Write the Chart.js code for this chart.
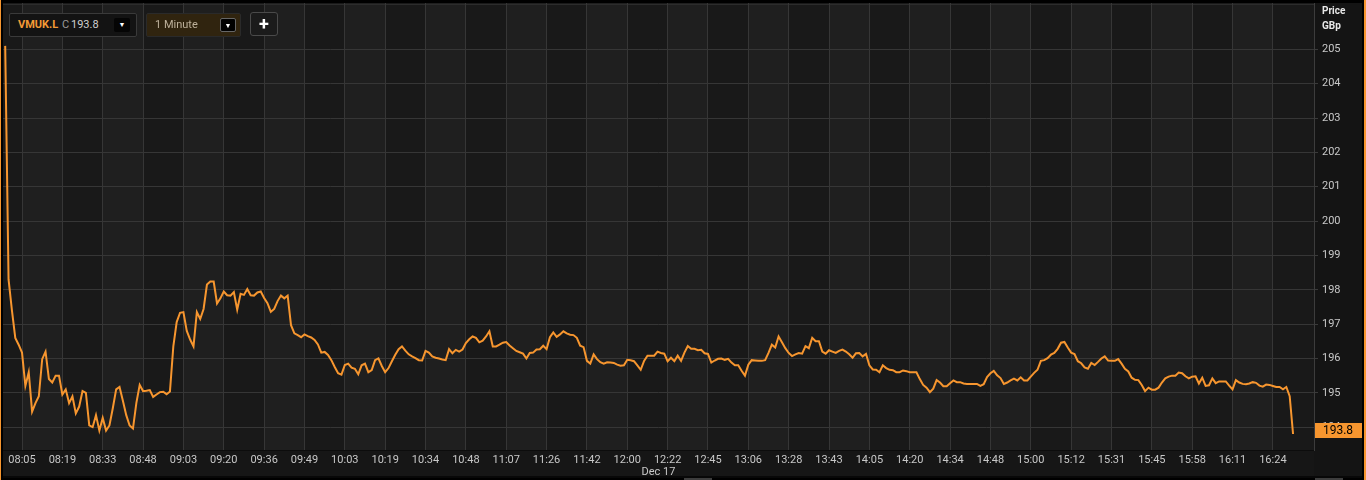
<!DOCTYPE html>
<html><head><meta charset="utf-8">
<script src="https://cdn.jsdelivr.net/npm/chart.js@4"></script>
<style>
html,body{margin:0;padding:0;background:#000;width:1366px;height:480px;overflow:hidden;font-family:Roboto,"Liberation Sans",sans-serif;}
#wrap{position:absolute;left:3px;top:3px;width:1359px;height:475px;}
.edge{position:absolute;background:#f7962f;}
.box{position:absolute;box-sizing:border-box;border:1px solid #3a3a3a;border-radius:2px;}
.box span{position:absolute;line-height:22px;top:0;font-size:11px;white-space:nowrap;}
.dd{position:absolute;box-sizing:border-box;width:16px;height:14px;top:4px;border-radius:2px;color:#fff;font-size:7px;line-height:14px;text-align:center;}
.tab{position:absolute;top:478px;width:28px;height:2px;background:#3d3d3d;}
</style></head>
<body>
<div class="edge" style="left:0;top:0;width:1px;height:480px"></div>
<div class="edge" style="left:1364px;top:0;width:2px;height:480px"></div>
<div id="wrap"><canvas id="c" width="1359" height="475"></canvas></div>
<div class="box" style="left:9px;top:13px;width:128px;height:24px;background:#131313;">
  <span style="left:8px;color:#f39a36;font-weight:bold;">VMUK.L</span>
  <span style="left:52px;color:#9a9a9a;">C</span>
  <span style="left:61px;color:#d0d0d0;">193.8</span>
  <div class="dd" style="left:104px;background:#050505;">&#9660;</div>
</div>
<div class="box" style="left:146px;top:13px;width:95px;height:24px;background:#30240f;border-color:#2a2a2a;">
  <span style="left:8px;color:#bdb09a;">1 Minute</span>
  <div class="dd" style="left:73px;background:#000;border:1px solid #666;">&#9660;</div>
</div>
<div class="box" style="left:250px;top:12px;width:28px;height:24px;background:#1b1b1b;border-color:#4a4a4a;border-radius:3px;">
  <span style="left:0;width:26px;text-align:center;color:#fff;font-weight:bold;font-size:18px;line-height:21px;">+</span>
</div>
<div class="tab" style="left:684px"></div>
<div class="tab" style="left:1315px"></div>
<script>
const symbol = 'VMUK.L';
const tickLabels = ['08:05','08:19','08:33','08:48','09:03','09:20','09:36','09:49','10:03','10:19','10:34','10:48','11:07','11:26','11:42','12:00','12:22','12:45','13:06','13:28','13:43','14:05','14:20','14:34','14:48','15:00','15:12','15:31','15:45','15:58','16:11','16:24'];
const tickBars = [5,17,29,41,53,65,77,89,101,113,125,137,149,161,173,185,197,209,221,233,245,257,269,281,293,305,317,329,341,353,365,377];
const yTicks = [194,195,196,197,198,199,200,201,202,203,204,205];
const prices = [
205.1,198.3,197.4,196.6,196.4,196.17,195.2,195.6,194.45,194.7,
194.9,195.98,196.2,195.4,195.3,195.5,195.5,194.95,195.1,194.7,
194.9,194.4,194.6,195.05,195.0,194.05,194.0,194.35,193.9,194.27,
193.9,194.05,194.55,195.1,195.17,194.77,194.35,194.05,193.96,194.7,
195.23,195.05,195.06,195.08,194.88,194.95,195.02,195.03,194.96,195.04,
196.35,197.06,197.33,197.35,196.8,196.55,196.35,197.35,197.15,197.44,
198.15,198.24,198.24,197.6,197.75,197.95,197.84,197.83,197.93,197.42,
197.88,197.85,198.02,197.84,197.83,197.92,197.95,197.76,197.61,197.36,
197.44,197.67,197.83,197.75,197.83,196.97,196.73,196.68,196.62,196.7,
196.65,196.61,196.54,196.41,196.17,196.19,196.1,195.95,195.75,195.57,
195.53,195.81,195.85,195.73,195.7,195.54,195.8,195.85,195.6,195.66,
195.95,196.0,195.78,195.6,195.72,195.92,196.11,196.27,196.35,196.23,
196.12,196.06,196.01,195.95,195.94,196.22,196.17,196.06,196.02,196.0,
195.97,195.95,196.27,196.15,196.25,196.2,196.26,196.45,196.56,196.64,
196.6,196.47,196.52,196.64,196.79,196.35,196.35,196.4,196.46,196.48,
196.38,196.3,196.22,196.18,196.14,196.0,196.16,196.17,196.26,196.27,
196.37,196.27,196.62,196.76,196.63,196.7,196.79,196.73,196.69,196.68,
196.6,196.37,196.33,195.93,195.85,196.12,195.98,195.89,195.85,195.89,
195.88,195.87,195.82,195.79,195.8,195.96,195.95,195.92,195.8,195.67,
195.93,196.08,196.08,196.08,196.2,196.16,196.14,195.92,196.02,195.92,
196.08,195.93,196.17,196.36,196.28,196.28,196.24,196.25,196.15,196.13,
195.88,195.94,195.99,196.0,195.96,195.99,195.88,195.8,195.8,195.64,
195.5,195.82,195.95,195.94,195.93,195.93,195.95,196.16,196.4,196.32,
196.64,196.47,196.3,196.16,196.07,196.12,196.16,196.14,196.36,196.3,
196.6,196.5,196.5,196.2,196.14,196.24,196.2,196.16,196.22,196.26,
196.2,196.12,196.02,196.15,196.16,196.06,196.13,195.8,195.68,195.67,
195.6,195.8,195.72,195.67,195.66,195.6,195.6,195.65,195.63,195.6,
195.6,195.6,195.4,195.23,195.15,195.02,195.12,195.37,195.3,195.19,
195.19,195.28,195.36,195.31,195.31,195.27,195.26,195.26,195.26,195.26,
195.2,195.25,195.46,195.57,195.64,195.51,195.43,195.26,195.3,195.36,
195.41,195.36,195.45,195.36,195.36,195.47,195.58,195.67,195.93,195.95,
196.01,196.11,196.16,196.28,196.46,196.48,196.32,196.17,196.13,195.92,
195.86,195.74,195.7,195.87,195.81,195.9,196.0,196.06,195.94,195.93,
195.93,195.98,195.85,195.7,195.62,195.44,195.38,195.37,195.23,195.05,
195.15,195.09,195.09,195.15,195.3,195.42,195.47,195.5,195.5,195.59,
195.57,195.48,195.42,195.47,195.48,195.27,195.44,195.2,195.22,195.42,
195.28,195.33,195.33,195.33,195.21,195.1,195.37,195.3,195.26,195.25,
195.27,195.31,195.29,195.21,195.18,195.24,195.23,195.2,195.17,195.17,
195.1,195.17,194.9,193.8
];
const dateLabel = 'Dec 17';
const axisTitle = ['Price','GBp'];

const LINE = '#f7962f';
const FONT = 'Roboto, "Liberation Sans", sans-serif';

const deco = {
  id:'deco',
  beforeDraw(chart){
    const {ctx, chartArea:a, scales:{x}} = chart;
    ctx.save();
    ctx.fillStyle = '#141414';
    ctx.fillRect(0,0,chart.width,chart.height);
    const edges = [a.left, ...x.ticks.map(t=>x.getPixelForValue(t.value)), a.right];
    for(let k=0;k<edges.length-1;k++){
      ctx.fillStyle = (k%2===1) ? '#1f1f1f' : '#191919';
      ctx.fillRect(edges[k], a.top, edges[k+1]-edges[k], a.bottom-a.top);
    }
    ctx.fillStyle = '#161616';
    ctx.fillRect(0, a.bottom, a.right, chart.height-a.bottom);
    ctx.fillStyle = '#080808';
    ctx.fillRect(0, chart.height-2, chart.width, 2);
    ctx.fillStyle = '#2c2c2c';
    ctx.fillRect(a.left, a.top+1, a.right-a.left, 1);
    ctx.restore();
  },
  afterDraw(chart){
    const {ctx, chartArea:a, scales:{y}} = chart;
    ctx.save();
    const v = prices[prices.length-1];
    const py = y.getPixelForValue(v);
    ctx.fillStyle = LINE;
    ctx.fillRect(a.right+1, Math.round(py-11), 47, 15);
    ctx.fillStyle = '#000';
    ctx.font = '12px ' + FONT;
    ctx.textAlign = 'center';
    ctx.textBaseline = 'middle';
    ctx.fillText(v.toFixed(1), a.right+24, py-3.5);
    ctx.fillStyle = '#c8c8c8';
    ctx.font = '11px ' + FONT;
    ctx.fillText(dateLabel, (a.left+a.right)/2, 469);
    ctx.fillStyle = '#e8e8e8';
    ctx.font = 'bold 10px ' + FONT;
    ctx.textAlign = 'left';
    ctx.fillText(axisTitle[0], a.right+8, 8);
    ctx.fillText(axisTitle[1], a.right+8, 23);
    ctx.restore();
  }
};

new Chart(document.getElementById('c'), {
  type:'line',
  data:{datasets:[{
    data: prices.map((v,i)=>({x:i,y:v})),
    borderColor: LINE, borderWidth:2, pointRadius:0, tension:0, fill:false
  }]},
  options:{
    responsive:false, animation:false, devicePixelRatio:1,
    layout:{padding:0},
    plugins:{legend:{display:false}, tooltip:{enabled:false}},
    scales:{
      x:{type:'linear', position:'bottom', min:-0.654, max:389.23,
        afterBuildTicks:s=>{s.ticks = tickBars.map(v=>({value:v}));},
        afterFit:s=>{s.height = 28; s.paddingLeft = 0; s.paddingRight = 0;},
        ticks:{autoSkip:false, maxRotation:0, color:'#c8c8c8', font:{family:FONT,size:11}, padding:4,
          callback:(v,i)=>tickLabels[i]},
        grid:{color:'#363636', drawTicks:false, lineWidth:1},
        border:{color:'#0c0c0c'}},
      y:{type:'linear', position:'right', min:193.335, max:206.348,
        afterBuildTicks:s=>{s.ticks = yTicks.map(v=>({value:v}));},
        afterFit:s=>{s.width = 48; s.paddingTop = 0; s.paddingBottom = 0;},
        ticks:{color:'#c8c8c8', font:{family:FONT,size:11}, padding:4, callback:v=>String(v)},
        grid:{color:'#363636', tickLength:4, drawTicks:true, tickColor:'#3a3a3a'},
        border:{color:'#3c3c3c'}}
    }
  },
  plugins:[deco]
});
</script>
</body></html>
